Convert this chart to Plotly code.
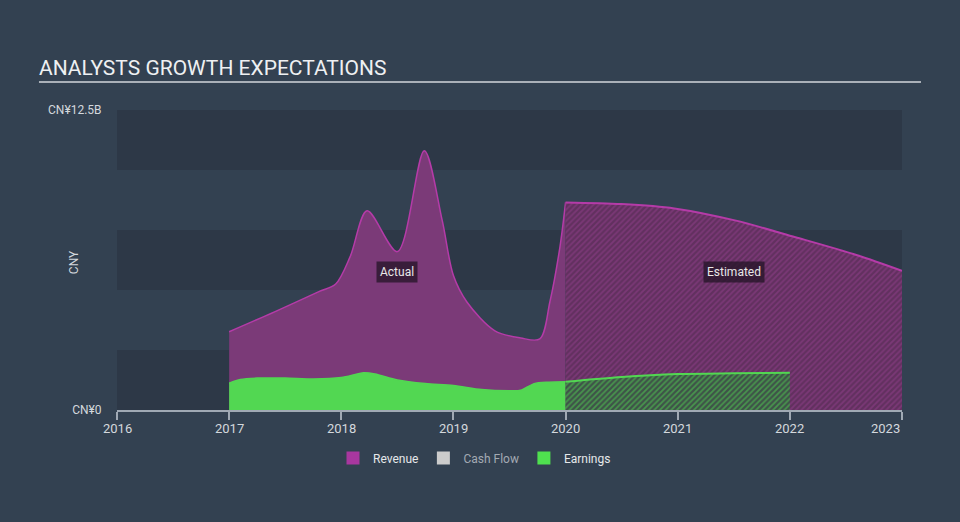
import plotly.graph_objects as go

# ---- data (values in CNY billions) ----
rev_act_x = [2017.0, 2017.41, 2017.8, 2017.95, 2018.08, 2018.23, 2018.5,
             2018.74, 2018.9, 2019.0, 2019.12, 2019.37, 2019.6, 2019.77, 2019.86, 2019.95, 2020.0]
rev_act_y = [3.26, 4.1, 4.93, 5.25, 6.4, 8.3, 6.6,
             10.8, 7.9, 5.6, 4.5, 3.3, 3.0, 2.96, 4.5, 6.8, 8.65]
rev_est_x = [2020.0, 2020.5, 2020.97, 2021.51, 2022.05, 2022.6, 2023.0]
rev_est_y = [8.65, 8.58, 8.4, 7.9, 7.2, 6.45, 5.8]
earn_act_x = [2017.0, 2017.1, 2017.25, 2017.5, 2017.75, 2018.0, 2018.2, 2018.3, 2018.5, 2018.75,
              2019.0, 2019.25, 2019.5, 2019.6, 2019.72, 2019.85, 2020.0]
earn_act_y = [1.12, 1.27, 1.33, 1.33, 1.29, 1.35, 1.55, 1.5, 1.25, 1.1,
              1.02, 0.85, 0.8, 0.82, 1.1, 1.16, 1.18]
earn_est_x = [2020.0, 2020.5, 2021.0, 2021.5, 2022.0]
earn_est_y = [1.18, 1.38, 1.5, 1.53, 1.55]

year_ticks = [2016, 2017, 2018, 2019, 2020, 2021, 2022, 2023]
year_labels = ["2016", "2017", "2018", "2019", "2020", "2021", "2022", "2023"]
y_ticks = [0, 12.5]
y_labels = ["CN¥0", "CN¥12.5B"]
legend_names = ["Revenue", "Cash Flow", "Earnings"]
legend_colors = ["#a8379f", "#cccccc", "#4fe04f"]

BG = "#334151"
BAND = "#2d3847"
TXT = "#d4d8dd"
FONT = "Roboto"

fig = go.Figure()

# revenue actual
fig.add_trace(go.Scatter(x=rev_act_x, y=rev_act_y, mode="lines", fill="tozeroy",
                         line=dict(color="#b53ba8", width=1.5, shape="spline", smoothing=0.9),
                         fillcolor="#7b3a78", showlegend=False, hoverinfo="skip"))
# revenue estimated
fig.add_trace(go.Scatter(x=rev_est_x, y=rev_est_y, mode="lines", fill="tozeroy",
                         line=dict(color="#b53ba8", width=2, shape="spline", smoothing=0.9),
                         fillpattern=dict(shape="/", bgcolor="#62305f", fgcolor="#93408e",
                                          size=4, solidity=0.45),
                         showlegend=False, hoverinfo="skip"))
# earnings actual
fig.add_trace(go.Scatter(x=earn_act_x, y=earn_act_y, mode="lines", fill="tozeroy",
                         line=dict(color="#52d752", width=1.5, shape="spline", smoothing=0.8),
                         fillcolor="#52d752", showlegend=False, hoverinfo="skip"))
# earnings estimated
fig.add_trace(go.Scatter(x=earn_est_x, y=earn_est_y, mode="lines", fill="tozeroy",
                         line=dict(color="#52d752", width=2, shape="spline", smoothing=0.8),
                         fillpattern=dict(shape="/", bgcolor="#3e5348", fgcolor="#52d752",
                                          size=4, solidity=0.45),
                         showlegend=False, hoverinfo="skip"))

# legend dummies
for i, (nm, col) in enumerate(zip(legend_names, legend_colors)):
    label = nm if nm != "Cash Flow" else "<span style='color:#a3aab3'>" + nm + "</span>"
    fig.add_trace(go.Scatter(x=[None], y=[None], mode="markers", name=label,
                             marker=dict(symbol="square", size=13, color=col)))

# bands
for y0 in [0, 5, 10]:
    fig.add_shape(type="rect", xref="paper", x0=0, x1=1, yref="y", y0=y0, y1=y0 + 2.5,
                  fillcolor=BAND, line_width=0, layer="below")

# title underline
fig.add_shape(type="line", xref="paper", yref="paper", x0=-0.0994, x1=1.0242, y0=1.0933, y1=1.0933,
              line=dict(color="#aab0b8", width=2))

# x tick labels as annotations
for v, t in zip(year_ticks, year_labels):
    fig.add_annotation(x=v, y=0, yref="paper", text=t, showarrow=False,
                       xanchor="right" if v == year_ticks[-1] else "center", yanchor="top",
                       yshift=-9, font=dict(family=FONT, size=13, color=TXT))

# Actual / Estimated labels
fig.add_annotation(x=(2017 + 2020) / 2, y=5.75, text="Actual", showarrow=False,
                   bgcolor="rgba(35,20,38,0.75)", borderpad=3,
                   font=dict(family=FONT, size=12, color="#e8e8e8"))
fig.add_annotation(x=(2020 + 2023) / 2, y=5.75, text="Estimated", showarrow=False,
                   bgcolor="rgba(35,20,38,0.75)", borderpad=3,
                   font=dict(family=FONT, size=12, color="#e8e8e8"))

# CNY axis title
fig.add_annotation(xref="paper", yref="paper", x=-0.0662, y=0.493, text="CNY", textangle=-90,
                   showarrow=False, font=dict(family=FONT, size=12, color=TXT))

fig.update_layout(
    width=960, height=522,
    paper_bgcolor=BG, plot_bgcolor=BG,
    margin=dict(l=117, r=58, t=110, b=112),
    title=dict(text="ANALYSTS GROWTH EXPECTATIONS", xref="container", yref="container",
               x=39 / 960, y=1 - 68 / 522, xanchor="left", yanchor="middle",
               font=dict(family=FONT, size=21, color="#eef0f2")),
    showlegend=True,
    legend=dict(orientation="h", x=0.4554, xanchor="center", y=-0.16, yanchor="middle",
                font=dict(family=FONT, size=12, color="#e6e8ea"), bgcolor="rgba(0,0,0,0)",
                itemclick=False),
    hovermode=False,
)
fig.update_xaxes(range=[2016, 2023], tickvals=year_ticks, ticktext=[""] * len(year_ticks),
                 showgrid=False, zeroline=False, showline=True, linecolor="#a0a9b4", linewidth=1.5,
                 ticks="outside", ticklen=8, tickcolor="#a0a9b4", tickwidth=1.5)
fig.update_yaxes(range=[0, 12.5], tickvals=y_ticks, ticktext=y_labels, showgrid=False,
                 zeroline=False, showline=False, ticks="outside", ticklen=12,
                 tickcolor="rgba(0,0,0,0)", tickfont=dict(family=FONT, size=12, color=TXT))

fig.write_html("out.html", config={"displayModeBar": False},
               post_script="document.body.style.margin='0px';document.body.style.overflow='hidden';")
